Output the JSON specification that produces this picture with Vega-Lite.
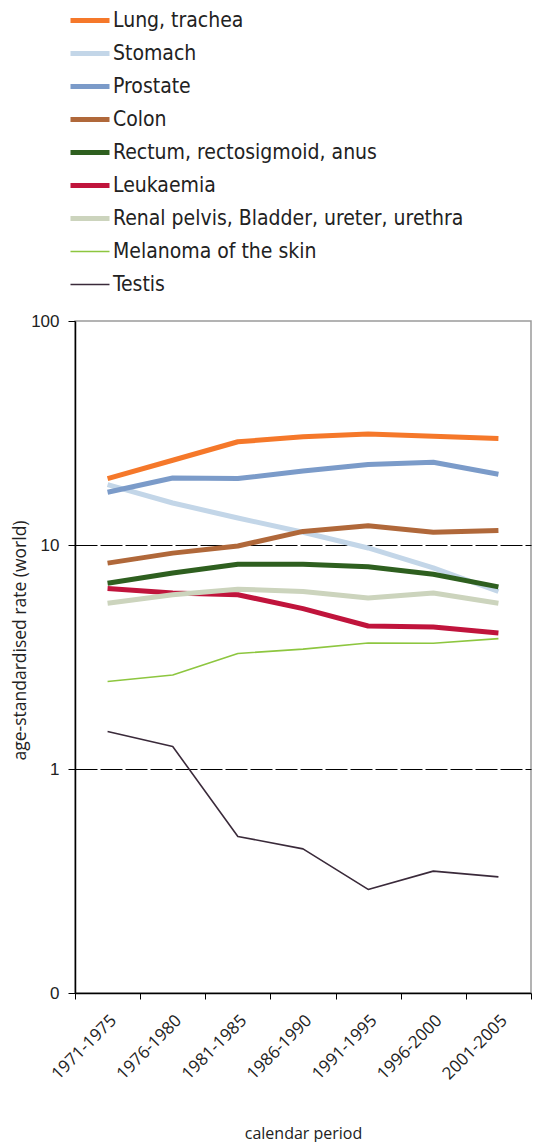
{
  "$schema": "https://vega.github.io/schema/vega-lite/v6.json",
  "width": 456,
  "height": 672,
  "autosize": {"type": "none"},
  "padding": {"left": 75, "top": 321, "right": 8, "bottom": 149},
  "background": "white",
  "config": {
    "font": "Open Sans",
    "view": {"stroke": "#9a9a9a", "strokeWidth": 1.5}
  },
  "data": {
    "values": [
      {"site": "Lung, trachea", "period": "1971-1975", "rate": 19.8},
      {"site": "Lung, trachea", "period": "1976-1980", "rate": 23.9},
      {"site": "Lung, trachea", "period": "1981-1985", "rate": 28.9},
      {"site": "Lung, trachea", "period": "1986-1990", "rate": 30.4},
      {"site": "Lung, trachea", "period": "1991-1995", "rate": 31.3},
      {"site": "Lung, trachea", "period": "1996-2000", "rate": 30.6},
      {"site": "Lung, trachea", "period": "2001-2005", "rate": 29.9},
      {"site": "Stomach", "period": "1971-1975", "rate": 18.6},
      {"site": "Stomach", "period": "1976-1980", "rate": 15.4},
      {"site": "Stomach", "period": "1981-1985", "rate": 13.2},
      {"site": "Stomach", "period": "1986-1990", "rate": 11.4},
      {"site": "Stomach", "period": "1991-1995", "rate": 9.7},
      {"site": "Stomach", "period": "1996-2000", "rate": 7.9},
      {"site": "Stomach", "period": "2001-2005", "rate": 6.2},
      {"site": "Prostate", "period": "1971-1975", "rate": 17.2},
      {"site": "Prostate", "period": "1976-1980", "rate": 19.9},
      {"site": "Prostate", "period": "1981-1985", "rate": 19.8},
      {"site": "Prostate", "period": "1986-1990", "rate": 21.4},
      {"site": "Prostate", "period": "1991-1995", "rate": 22.9},
      {"site": "Prostate", "period": "1996-2000", "rate": 23.4},
      {"site": "Prostate", "period": "2001-2005", "rate": 20.7},
      {"site": "Colon", "period": "1971-1975", "rate": 8.3},
      {"site": "Colon", "period": "1976-1980", "rate": 9.2},
      {"site": "Colon", "period": "1981-1985", "rate": 9.9},
      {"site": "Colon", "period": "1986-1990", "rate": 11.5},
      {"site": "Colon", "period": "1991-1995", "rate": 12.2},
      {"site": "Colon", "period": "1996-2000", "rate": 11.4},
      {"site": "Colon", "period": "2001-2005", "rate": 11.6},
      {"site": "Rectum, rectosigmoid, anus", "period": "1971-1975", "rate": 6.75},
      {"site": "Rectum, rectosigmoid, anus", "period": "1976-1980", "rate": 7.5},
      {"site": "Rectum, rectosigmoid, anus", "period": "1981-1985", "rate": 8.2},
      {"site": "Rectum, rectosigmoid, anus", "period": "1986-1990", "rate": 8.2},
      {"site": "Rectum, rectosigmoid, anus", "period": "1991-1995", "rate": 8.0},
      {"site": "Rectum, rectosigmoid, anus", "period": "1996-2000", "rate": 7.4},
      {"site": "Rectum, rectosigmoid, anus", "period": "2001-2005", "rate": 6.5},
      {"site": "Leukaemia", "period": "1971-1975", "rate": 6.4},
      {"site": "Leukaemia", "period": "1976-1980", "rate": 6.1},
      {"site": "Leukaemia", "period": "1981-1985", "rate": 6.0},
      {"site": "Leukaemia", "period": "1986-1990", "rate": 5.2},
      {"site": "Leukaemia", "period": "1991-1995", "rate": 4.35},
      {"site": "Leukaemia", "period": "1996-2000", "rate": 4.3},
      {"site": "Leukaemia", "period": "2001-2005", "rate": 4.05},
      {"site": "Renal pelvis, Bladder, ureter, urethra", "period": "1971-1975", "rate": 5.5},
      {"site": "Renal pelvis, Bladder, ureter, urethra", "period": "1976-1980", "rate": 6.0},
      {"site": "Renal pelvis, Bladder, ureter, urethra", "period": "1981-1985", "rate": 6.35},
      {"site": "Renal pelvis, Bladder, ureter, urethra", "period": "1986-1990", "rate": 6.2},
      {"site": "Renal pelvis, Bladder, ureter, urethra", "period": "1991-1995", "rate": 5.8},
      {"site": "Renal pelvis, Bladder, ureter, urethra", "period": "1996-2000", "rate": 6.1},
      {"site": "Renal pelvis, Bladder, ureter, urethra", "period": "2001-2005", "rate": 5.5},
      {"site": "Melanoma of the skin", "period": "1971-1975", "rate": 2.46},
      {"site": "Melanoma of the skin", "period": "1976-1980", "rate": 2.63},
      {"site": "Melanoma of the skin", "period": "1981-1985", "rate": 3.28},
      {"site": "Melanoma of the skin", "period": "1986-1990", "rate": 3.43},
      {"site": "Melanoma of the skin", "period": "1991-1995", "rate": 3.65},
      {"site": "Melanoma of the skin", "period": "1996-2000", "rate": 3.64},
      {"site": "Melanoma of the skin", "period": "2001-2005", "rate": 3.82},
      {"site": "Testis", "period": "1971-1975", "rate": 1.47},
      {"site": "Testis", "period": "1976-1980", "rate": 1.26},
      {"site": "Testis", "period": "1981-1985", "rate": 0.5},
      {"site": "Testis", "period": "1986-1990", "rate": 0.44},
      {"site": "Testis", "period": "1991-1995", "rate": 0.29},
      {"site": "Testis", "period": "1996-2000", "rate": 0.35},
      {"site": "Testis", "period": "2001-2005", "rate": 0.33}
    ]
  },
  "mark": {"type": "line", "strokeJoin": "round"},
  "encoding": {
    "x": {
      "field": "period",
      "type": "ordinal",
      "bandPosition": 0.5,
      "scale": {"type": "band", "paddingInner": 0, "paddingOuter": 0},
      "axis": {
        "title": "calendar period",
        "titleFont": "Open Sans",
        "titleFontSize": 16,
        "titleFontWeight": "normal",
        "titleColor": "#222222",
        "titleY": 145,
        "titleBaseline": "alphabetic",
        "labelAngle": -45,
        "labelFont": "Open Sans",
        "labelFontSize": 17,
        "labelColor": "#222222",
        "labelPadding": 13,
        "tickBand": "extent",
        "tickSize": 6,
        "tickColor": "#000000",
        "domainColor": "#000000",
        "domainWidth": 1.5,
        "grid": false
      }
    },
    "y": {
      "field": "rate",
      "type": "quantitative",
      "scale": {"type": "log", "domain": [0.1, 100]},
      "axis": {
        "title": "age-standardised rate (world)",
        "titleFont": "Open Sans",
        "titleFontSize": 17.5,
        "titleFontWeight": "normal",
        "titleColor": "#222222",
        "titleX": -55,
        "titleY": 319,
        "titleAlign": "center",
        "titleBaseline": "middle",
        "values": [0.1, 1, 10, 100],
        "labelExpr": "datum.value < 1 ? '0' : format(datum.value, 'd')",
        "labelFont": "Liberation Sans",
        "labelFontSize": 17,
        "labelColor": "#222222",
        "labelPadding": 9,
        "tickSize": 7,
        "tickColor": "#000000",
        "domainColor": "#000000",
        "domainWidth": 1.5,
        "grid": true,
        "gridColor": "#000000",
        "gridWidth": 1.2,
        "gridDash": [22, 3],
        "gridOpacity": {
          "condition": {"test": "datum.value === 1 || datum.value === 10", "value": 1},
          "value": 0
        }
      }
    },
    "color": {
      "field": "site",
      "type": "nominal",
      "scale": {
        "domain": [
          "Lung, trachea",
          "Stomach",
          "Prostate",
          "Colon",
          "Rectum, rectosigmoid, anus",
          "Leukaemia",
          "Renal pelvis, Bladder, ureter, urethra",
          "Melanoma of the skin",
          "Testis"
        ],
        "range": [
          "#f5782a",
          "#c3d6e8",
          "#7b9bc9",
          "#b0683a",
          "#2e5f1f",
          "#c0143c",
          "#ccd4bd",
          "#8dc63f",
          "#3a2a3a"
        ]
      },
      "legend": {
        "title": null,
        "orient": "none",
        "legendX": -7,
        "legendY": -317,
        "symbolType": "stroke",
        "symbolSize": 1521,
        "clipHeight": 33,
        "labelFont": "DejaVu Sans Condensed, Roboto, sans-serif",
        "labelFontSize": 21,
        "labelColor": "#222222",
        "labelOffset": 1,
        "rowPadding": 0,
        "labelLimit": 500
      }
    },
    "strokeWidth": {
      "field": "site",
      "type": "nominal",
      "scale": {
        "type": "ordinal",
        "domain": [
          "Lung, trachea",
          "Stomach",
          "Prostate",
          "Colon",
          "Rectum, rectosigmoid, anus",
          "Leukaemia",
          "Renal pelvis, Bladder, ureter, urethra",
          "Melanoma of the skin",
          "Testis"
        ],
        "range": [5, 5, 5, 5, 5, 5, 5, 1.6, 1.6]
      }
    }
  }
}
